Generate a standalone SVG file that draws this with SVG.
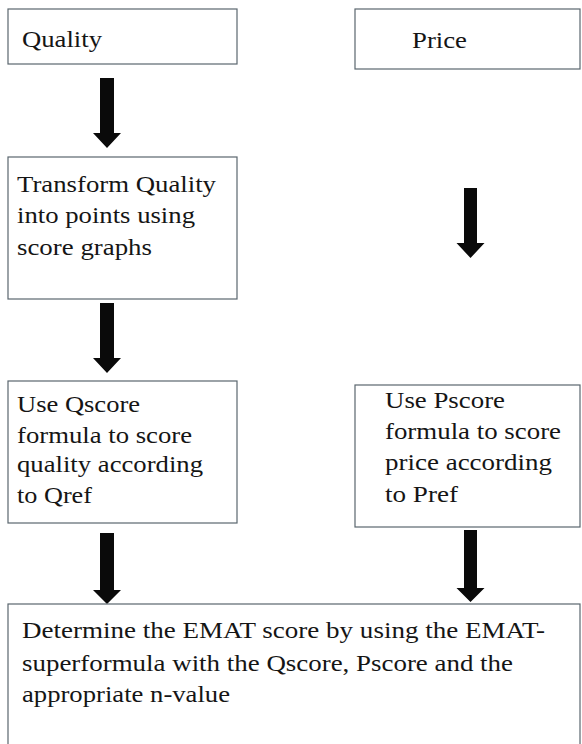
<svg xmlns="http://www.w3.org/2000/svg" width="582" height="744" viewBox="0 0 582 744">
<defs>
<style>
.box{fill:#ffffff;stroke:#5a666e;stroke-width:1.2}
.t{font-family:'Liberation Serif','Times New Roman',serif;font-size:22.5px;fill:#151515}
.arr{fill:#0a0a0a}
</style>
</defs>
<rect width="582" height="744" fill="#ffffff"/>
<g id="connectors">
<polygon class="arr" points="100,78 114,78 114,133 121,133 107,148 93,133 100,133"/>
<polygon class="arr" points="100,303 114,303 114,358 121,358 107,373 93,358 100,358"/>
<polygon class="arr" points="100,533 114,533 114,590 121,590 107,604 93,590 100,590"/>
<polygon class="arr" points="464,188 477,188 477,243 484.5,243 470.5,258 456.5,243 464,243"/>
<polygon class="arr" points="464,530 477,530 477,588 484.5,588 470.5,602 456.5,588 464,588"/>
</g>
<g id="quality">
<rect class="box" x="8" y="9" width="229" height="55"/>
<text class="t" x="22" y="47" textLength="80" lengthAdjust="spacingAndGlyphs">Quality</text>
</g>
<g id="price">
<rect class="box" x="355" y="9" width="225" height="60"/>
<text class="t" x="412" y="48" textLength="55" lengthAdjust="spacingAndGlyphs">Price</text>
</g>
<g id="transform">
<rect class="box" x="8" y="157" width="229" height="142"/>
<text class="t" x="17" y="192" textLength="199" lengthAdjust="spacingAndGlyphs">Transform Quality</text>
<text class="t" x="17" y="223" textLength="178" lengthAdjust="spacingAndGlyphs">into points using</text>
<text class="t" x="17" y="255" textLength="135" lengthAdjust="spacingAndGlyphs">score graphs</text>
</g>
<g id="qscore">
<rect class="box" x="8" y="381" width="229" height="142"/>
<text class="t" x="17" y="412" textLength="123" lengthAdjust="spacingAndGlyphs">Use Qscore</text>
<text class="t" x="17" y="443" textLength="175" lengthAdjust="spacingAndGlyphs">formula to score</text>
<text class="t" x="17" y="472" textLength="186" lengthAdjust="spacingAndGlyphs">quality according</text>
<text class="t" x="17" y="503" textLength="75" lengthAdjust="spacingAndGlyphs">to Qref</text>
</g>
<g id="pscore">
<rect class="box" x="355" y="385" width="225" height="142"/>
<text class="t" x="385" y="408" textLength="120" lengthAdjust="spacingAndGlyphs">Use Pscore</text>
<text class="t" x="385" y="439" textLength="176" lengthAdjust="spacingAndGlyphs">formula to score</text>
<text class="t" x="385" y="470" textLength="167" lengthAdjust="spacingAndGlyphs">price according</text>
<text class="t" x="385" y="502" textLength="73" lengthAdjust="spacingAndGlyphs">to Pref</text>
</g>
<g id="emat">
<rect class="box" x="8" y="604" width="572" height="150"/>
<text class="t" x="22" y="638" textLength="523" lengthAdjust="spacingAndGlyphs">Determine the EMAT score by using the EMAT-</text>
<text class="t" x="22" y="671" textLength="491" lengthAdjust="spacingAndGlyphs">superformula with the Qscore, Pscore and the</text>
<text class="t" x="22" y="702" textLength="208" lengthAdjust="spacingAndGlyphs">appropriate n-value</text>
</g>
</svg>
